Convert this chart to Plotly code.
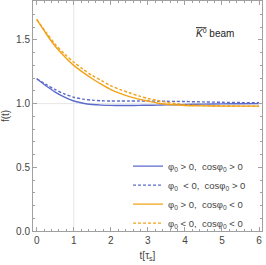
import plotly.graph_objects as go

t = [0, 0.25, 0.5, 0.75, 1.0, 1.25, 1.5, 1.75, 2.0, 2.25, 2.5, 2.75, 3.0, 3.25, 3.5, 3.75, 4.0, 4.5, 5.0, 5.5, 6.0]

blue_solid = [1.195, 1.14, 1.09, 1.05, 1.02, 1.003, 0.993, 0.988, 0.986, 0.985, 0.985, 0.986, 0.987, 0.988, 0.99, 0.991, 0.993, 0.996, 0.998, 0.999, 1.0]
blue_dashed = [1.195, 1.15, 1.11, 1.075, 1.05, 1.035, 1.027, 1.022, 1.02, 1.02, 1.02, 1.02, 1.02, 1.019, 1.018, 1.017, 1.016, 1.013, 1.01, 1.008, 1.006]
orange_solid = [1.66, 1.55, 1.45, 1.37, 1.30, 1.245, 1.195, 1.15, 1.11, 1.08, 1.055, 1.035, 1.02, 1.005, 0.995, 0.99, 0.985, 0.982, 0.98, 0.98, 0.98]
orange_dashed = [1.66, 1.56, 1.465, 1.39, 1.325, 1.27, 1.22, 1.18, 1.14, 1.11, 1.085, 1.06, 1.04, 1.025, 1.01, 1.0, 0.99, 0.985, 0.982, 0.98, 0.98]

names = [
    "φ<sub>0</sub> > 0,  cosφ<sub>0</sub> > 0",
    "φ<sub>0</sub>  < 0,  cosφ<sub>0</sub> > 0",
    "φ<sub>0</sub> > 0,  cosφ<sub>0</sub> < 0",
    "φ<sub>0</sub> < 0,  cosφ<sub>0</sub> < 0",
]
x_ticks = [0, 1, 2, 3, 4, 5, 6]
y_ticks = [0.0, 0.5, 1.0, 1.5]
y_tick_labels = ["0.0", "0.5", "1.0", "1.5"]
grid_x = [1]
grid_y = [1.0]

BLUE = "#5B6BCC"
ORANGE = "#F2A218"
FONT = "Liberation Sans"

fig = go.Figure()
series = [
    (blue_solid, BLUE, "solid"),
    (blue_dashed, BLUE, "3px,2px"),
    (orange_solid, ORANGE, "solid"),
    (orange_dashed, ORANGE, "3px,2px"),
]
for (vals, col, dash), nm in zip(series, names):
    fig.add_trace(go.Scatter(
        x=t, y=vals, mode="lines", name=nm,
        line=dict(color=col, width=1.4, dash=dash, shape="spline", smoothing=0.8),
    ))

shapes = []
for gx in grid_x:
    shapes.append(dict(type="line", xref="x", yref="paper", x0=gx, x1=gx, y0=0, y1=1,
                       line=dict(color="#e6e6e6", width=1), layer="below"))
for gy in grid_y:
    shapes.append(dict(type="line", xref="paper", yref="y", x0=0, x1=1, y0=gy, y1=gy,
                       line=dict(color="#e6e6e6", width=1), layer="below"))

axis_common = dict(
    showline=True, linecolor="#a0a0a0", linewidth=1, mirror="allticks",
    ticks="inside", ticklen=4, tickcolor="#a0a0a0", tickwidth=1,
    showgrid=False, zeroline=False, automargin=False,
    tickfont=dict(family=FONT, size=10, color="#444"),
)

fig.update_layout(
    width=266, height=265,
    margin=dict(l=33, r=4, t=1, b=34),
    plot_bgcolor="white", paper_bgcolor="white",
    font=dict(family=FONT, size=10, color="#444"),
    shapes=shapes,
    xaxis=dict(range=[-0.1, 6.08], tickvals=x_ticks, ticktext=[str(v) for v in x_ticks],
               minor=dict(dtick=0.2, ticks="inside", ticklen=2, tickcolor="#a0a0a0"),
               title=dict(text="t[τ<sub>s</sub>]", font=dict(family=FONT, size=10, color="#444"), standoff=6),
               **axis_common),
    yaxis=dict(range=[0, 1.805], tickvals=y_ticks, ticktext=y_tick_labels,
               minor=dict(dtick=0.1, ticks="inside", ticklen=2, tickcolor="#a0a0a0"),
               title=dict(text="f(t)", font=dict(family=FONT, size=10, color="#444"), standoff=4),
               **axis_common),
    legend=dict(x=0.415, y=0.345, xanchor="left", yanchor="top", bgcolor="rgba(0,0,0,0)",
                font=dict(family=FONT, size=9.5, color="#444"), tracegroupgap=0,
                itemwidth=30),
    annotations=[dict(
        x=0.885, y=0.86, xref="paper", yref="paper", xanchor="right", yanchor="middle",
        text="<span style='text-decoration:overline'><i>K</i><sup>0</sup></span> beam",
        showarrow=False, font=dict(family=FONT, size=10, color="#222"),
    )],
)

fig.write_html("out.html", config={"displayModeBar": False},
               post_script="document.body.style.margin='0';document.body.style.overflow='hidden';")
